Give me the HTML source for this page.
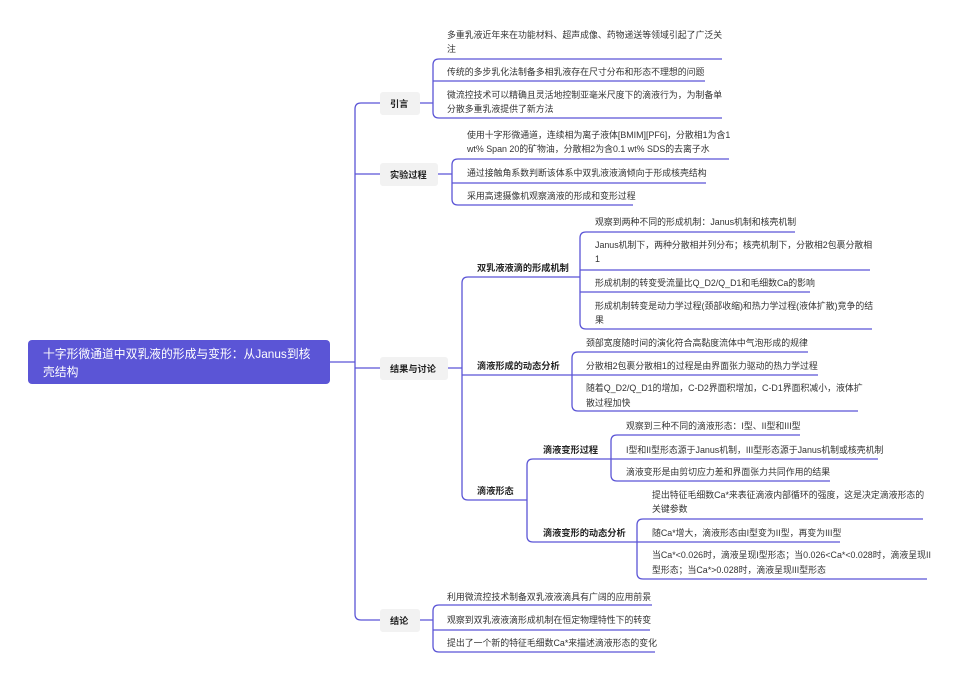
<!DOCTYPE html>
<html><head><meta charset="utf-8"><style>
html,body{margin:0;padding:0;background:#fff;}
svg{display:block;}
text{font-family:"Liberation Sans","Noto Sans CJK SC",sans-serif;}
.l{font-size:8.9px;fill:#333;}
.b{font-size:9.2px;font-weight:bold;fill:#222;}
.ln{fill:none;stroke:#5b55d6;stroke-width:1.3;}
</style></head><body>
<svg width="955" height="680" viewBox="0 0 955 680" xmlns="http://www.w3.org/2000/svg">
<rect x="28" y="340" width="302" height="44" rx="4" fill="#5b55d6"/>
<text x="43" y="358" fill="#fff" font-size="11.8">十字形微通道中双乳液的形成与变形：从Janus到核</text>
<text x="43" y="376" fill="#fff" font-size="11.8">壳结构</text>
<path class="ln" d="M330,362 L355,362 M355,109 Q355,103 361,103 L380,103 M355,109 L355,614 Q355,620 361,620 L380,620 M355,174 L380,174 M355,368 L380,368"/>
<rect x="380" y="92" width="40" height="23" rx="3" fill="#f2f2f2"/>
<text class="b" x="390" y="107">引言</text>
<rect x="380" y="163" width="58" height="23" rx="3" fill="#f2f2f2"/>
<text class="b" x="390" y="178">实验过程</text>
<rect x="380" y="357" width="68" height="23" rx="3" fill="#f2f2f2"/>
<text class="b" x="390" y="372">结果与讨论</text>
<rect x="380" y="609" width="40" height="23" rx="3" fill="#f2f2f2"/>
<text class="b" x="390" y="624">结论</text>

<path class="ln" d="M420,103 L433,103 M433,65 Q433,59 439,59 L722,59 M433,65 L433,112 Q433,118 439,118 L722,118 M433,81 L705,81"/>
<text class="l" x="447" y="38">多重乳液近年来在功能材料、超声成像、药物递送等领域引起了广泛关</text>
<text class="l" x="447" y="52">注</text>
<text class="l" x="447" y="75">传统的多步乳化法制备多相乳液存在尺寸分布和形态不理想的问题</text>
<text class="l" x="447" y="98">微流控技术可以精确且灵活地控制亚毫米尺度下的滴液行为，为制备单</text>
<text class="l" x="447" y="112">分散多重乳液提供了新方法</text>

<path class="ln" d="M438,174 L452,174 M452,165 Q452,159 458,159 L729,159 M452,165 L452,199 Q452,205 458,205 L633,205 M452,183 L706,183"/>
<text class="l" x="467" y="138">使用十字形微通道，连续相为离子液体[BMIM][PF6]，分散相1为含1</text>
<text class="l" x="467" y="152">wt% Span 20的矿物油，分散相2为含0.1 wt% SDS的去离子水</text>
<text class="l" x="467" y="176">通过接触角系数判断该体系中双乳液液滴倾向于形成核壳结构</text>
<text class="l" x="467" y="199">采用高速摄像机观察滴液的形成和变形过程</text>

<path class="ln" d="M448,368 L462,368 M462,283 Q462,277 468,277 L580,277 M462,283 L462,494 Q462,500 468,500 L527,500 M462,375 L572,375"/>
<text class="b" x="477" y="271">双乳液液滴的形成机制</text>
<text class="b" x="477" y="369">滴液形成的动态分析</text>
<text class="b" x="477" y="494">滴液形态</text>

<path class="ln" d="M580,238 Q580,232 586,232 L795,232 M580,238 L580,323 Q580,329 586,329 L872,329 M580,270 L870,270 M580,292 L810,292"/>
<text class="l" x="595" y="225">观察到两种不同的形成机制：Janus机制和核壳机制</text>
<text class="l" x="595" y="248">Janus机制下，两种分散相并列分布；核壳机制下，分散相2包裹分散相</text>
<text class="l" x="595" y="262">1</text>
<text class="l" x="595" y="286">形成机制的转变受流量比Q_D2/Q_D1和毛细数Ca的影响</text>
<text class="l" x="595" y="309">形成机制转变是动力学过程(颈部收缩)和热力学过程(液体扩散)竞争的结</text>
<text class="l" x="595" y="323">果</text>

<path class="ln" d="M572,358 Q572,352 578,352 L808,352 M572,358 L572,405 Q572,411 578,411 L858,411 M572,375 L818,375"/>
<text class="l" x="586" y="346">颈部宽度随时间的演化符合高黏度流体中气泡形成的规律</text>
<text class="l" x="586" y="369">分散相2包裹分散相1的过程是由界面张力驱动的热力学过程</text>
<text class="l" x="586" y="391">随着Q_D2/Q_D1的增加，C-D2界面积增加，C-D1界面积减小，液体扩</text>
<text class="l" x="586" y="406">散过程加快</text>

<path class="ln" d="M527,465 Q527,459 533,459 L611,459 M527,465 L527,536 Q527,542 533,542 L637,542"/>
<text class="b" x="543" y="453">滴液变形过程</text>
<text class="b" x="543" y="536">滴液变形的动态分析</text>

<path class="ln" d="M611,441 Q611,435 617,435 L800,435 M611,441 L611,475 Q611,481 617,481 L830,481 M611,459 L878,459"/>
<text class="l" x="626" y="429">观察到三种不同的滴液形态：I型、II型和III型</text>
<text class="l" x="626" y="453">I型和II型形态源于Janus机制，III型形态源于Janus机制或核壳机制</text>
<text class="l" x="626" y="475">滴液变形是由剪切应力差和界面张力共同作用的结果</text>

<path class="ln" d="M637,525 Q637,519 643,519 L923,519 M637,525 L637,573 Q637,579 643,579 L927,579 M637,542 L840,542"/>
<text class="l" x="652" y="498">提出特征毛细数Ca*来表征滴液内部循环的强度，这是决定滴液形态的</text>
<text class="l" x="652" y="512">关键参数</text>
<text class="l" x="652" y="536">随Ca*增大，滴液形态由I型变为II型，再变为III型</text>
<text class="l" x="652" y="558">当Ca*&lt;0.026时，滴液呈现I型形态；当0.026&lt;Ca*&lt;0.028时，滴液呈现II</text>
<text class="l" x="652" y="573">型形态；当Ca*&gt;0.028时，滴液呈现III型形态</text>

<path class="ln" d="M420,620 L433,620 M433,611 Q433,605 439,605 L652,605 M433,611 L433,646 Q433,652 439,652 L655,652 M433,630 L650,630"/>
<text class="l" x="447" y="600">利用微流控技术制备双乳液液滴具有广阔的应用前景</text>
<text class="l" x="447" y="623">观察到双乳液液滴形成机制在恒定物理特性下的转变</text>
<text class="l" x="447" y="646">提出了一个新的特征毛细数Ca*来描述滴液形态的变化</text>
</svg>
</body></html>
